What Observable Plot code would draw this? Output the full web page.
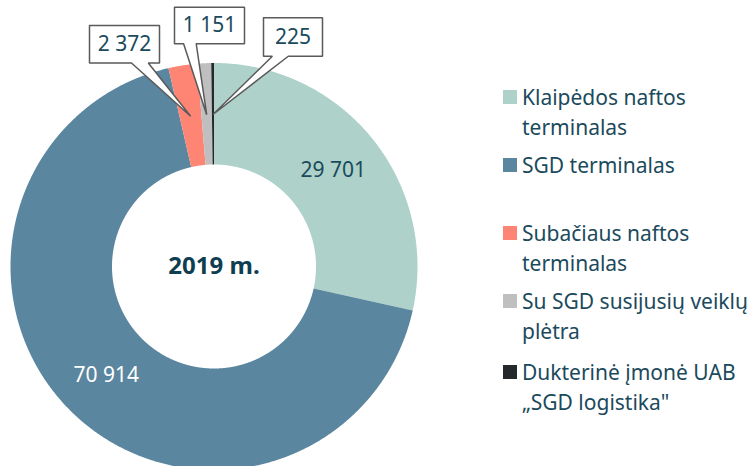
<!DOCTYPE html>
<html><head><meta charset="utf-8">
<script src="https://cdn.jsdelivr.net/npm/d3@7"></script>
<script src="https://cdn.jsdelivr.net/npm/@observablehq/plot@0.6"></script>
<style>
body{margin:0;background:#fff;font-family:"Noto Sans",sans-serif;}
#wrap{position:relative;width:752px;height:466px;overflow:hidden}
#chart{position:absolute;left:0;top:0}
#legend{position:absolute;left:503px;top:82px;color:#1b4a5c;font-size:21px;line-height:30px;white-space:nowrap}
.item{display:flex;align-items:flex-start;height:68px}
.sw{width:14px;height:14px;margin-top:8px;margin-right:5px;flex:none}
</style></head><body><div id="wrap"><div id="chart"></div><div id="legend"></div></div>
<script>
// ---- data ----
const categories = ["Klaipėdos naftos terminalas","SGD terminalas","Subačiaus naftos terminalas","Su SGD susijusių veiklų plėtra","Dukterinė įmonė UAB „SGD logistika\""];
const values = [29701, 70914, 2372, 1151, 225];
const valueLabels = ["29 701", "70 914", "2 372", "1 151", "225"];
const legendLines = [["Klaipėdos naftos","terminalas"],["SGD terminalas"],["Subačiaus naftos","terminalas"],["Su SGD susijusių veiklų","plėtra"],["Dukterinė įmonė UAB","„SGD logistika\""]];
const colors = ["#aed1c9", "#5b86a0", "#fe8573", "#bfbfbf", "#25292c"];
const centerTitle = "2019 m.";

// ---- layout (chart units = px, origin at donut centre, y up) ----
const R = 203.5, r0 = 102, labelR = 153, tipR = 152;
const insideLabelColor = ["#1a4a5c", "#ffffff"];
const callouts = [ // for slices 2,3,4
  {i: 2, cx: -89.5, cy: 222.2, w: 70, h: 37.5, b0: 0.60, b1: 0.84},
  {i: 3, cx: -4.5, cy: 241, w: 70, h: 36.5, b0: 0.13, b1: 0.31},
  {i: 4, cx: 79, cy: 229.5, w: 59, h: 38.5, b0: 0.15, b1: 0.42}
];

const data = categories.map((c, i) => ({cat: c, value: values[i], label: valueLabels[i]}));
const arcs = d3.pie().sort(null).value(d => d.value).startAngle(0).endAngle(2 * Math.PI)(data);

// slice polygons
const slicePts = [];
arcs.forEach(a => {
  const n = Math.max(2, Math.ceil((a.endAngle - a.startAngle) / 0.005));
  const pts = [];
  for (let k = 0; k <= n; k++) {
    const t = a.startAngle + (a.endAngle - a.startAngle) * k / n;
    pts.push([R * Math.sin(t), R * Math.cos(t)]);
  }
  for (let k = n; k >= 0; k--) {
    const t = a.startAngle + (a.endAngle - a.startAngle) * k / n;
    pts.push([r0 * Math.sin(t), r0 * Math.cos(t)]);
  }
  pts.forEach(p => slicePts.push({cat: a.data.cat, x: p[0], y: p[1]}));
});

const mid = a => (a.startAngle + a.endAngle) / 2;
const inside = arcs.slice(0, 2).map((a, j) => ({x: labelR * Math.sin(mid(a)), y: labelR * Math.cos(mid(a)), text: a.data.label, j}));

// callout polygons
const calloutPts = [];
const calloutText = [];
callouts.forEach(c => {
  const a = arcs[c.i];
  const tx = tipR * Math.sin(mid(a)), ty = tipR * Math.cos(mid(a));
  const L = c.cx - c.w / 2, Rr = c.cx + c.w / 2, T = c.cy + c.h / 2, B = c.cy - c.h / 2;
  const pts = [[L, T], [Rr, T], [Rr, B], [L + c.w * c.b1, B], [tx, ty], [L + c.w * c.b0, B], [L, B], [L, T]];
  pts.forEach(p => calloutPts.push({id: c.i, x: p[0], y: p[1]}));
  calloutText.push({x: c.cx, y: c.cy, text: a.data.label});
});

const plot = Plot.plot({
  width: 752, height: 466, margin: 0,
  x: {domain: [-213.5, 538.5], axis: null},
  y: {domain: [-200, 266], axis: null},
  color: {domain: categories, range: colors},
  style: {fontFamily: "Noto Sans", background: "white"},
  marks: [
    Plot.line(slicePts, {x: "x", y: "y", z: "cat", fill: "cat", stroke: "none"}),
    Plot.text(inside.filter(d => d.j === 0), {x: "x", y: "y", text: "text", fill: insideLabelColor[0], fontSize: 21}),
    Plot.text(inside.filter(d => d.j === 1), {x: "x", y: "y", text: "text", fill: insideLabelColor[1], fontSize: 21}),
    Plot.line(calloutPts, {x: "x", y: "y", z: "id", fill: "white", stroke: "#5a5a5a", strokeWidth: 1.5, strokeLinejoin: "miter"}),
    Plot.text(calloutText, {x: "x", y: "y", text: "text", fill: "#1a4a5c", fontSize: 21}),
    Plot.text([centerTitle], {x: () => 0, y: () => 0, text: d => d, fill: "#0e3e50", fontSize: 24, fontWeight: "bold"})
  ]
});
document.getElementById("chart").appendChild(plot);

// legend
const leg = document.getElementById("legend");
categories.forEach((c, i) => {
  const item = document.createElement("div");
  item.className = "item";
  if (i === 4) item.style.marginTop = "3px";
  const sw = document.createElement("div");
  sw.className = "sw"; sw.style.background = colors[i];
  const tx = document.createElement("div");
  tx.innerHTML = legendLines[i].join("<br>");
  item.appendChild(sw); item.appendChild(tx);
  leg.appendChild(item);
});
</script></body></html>
